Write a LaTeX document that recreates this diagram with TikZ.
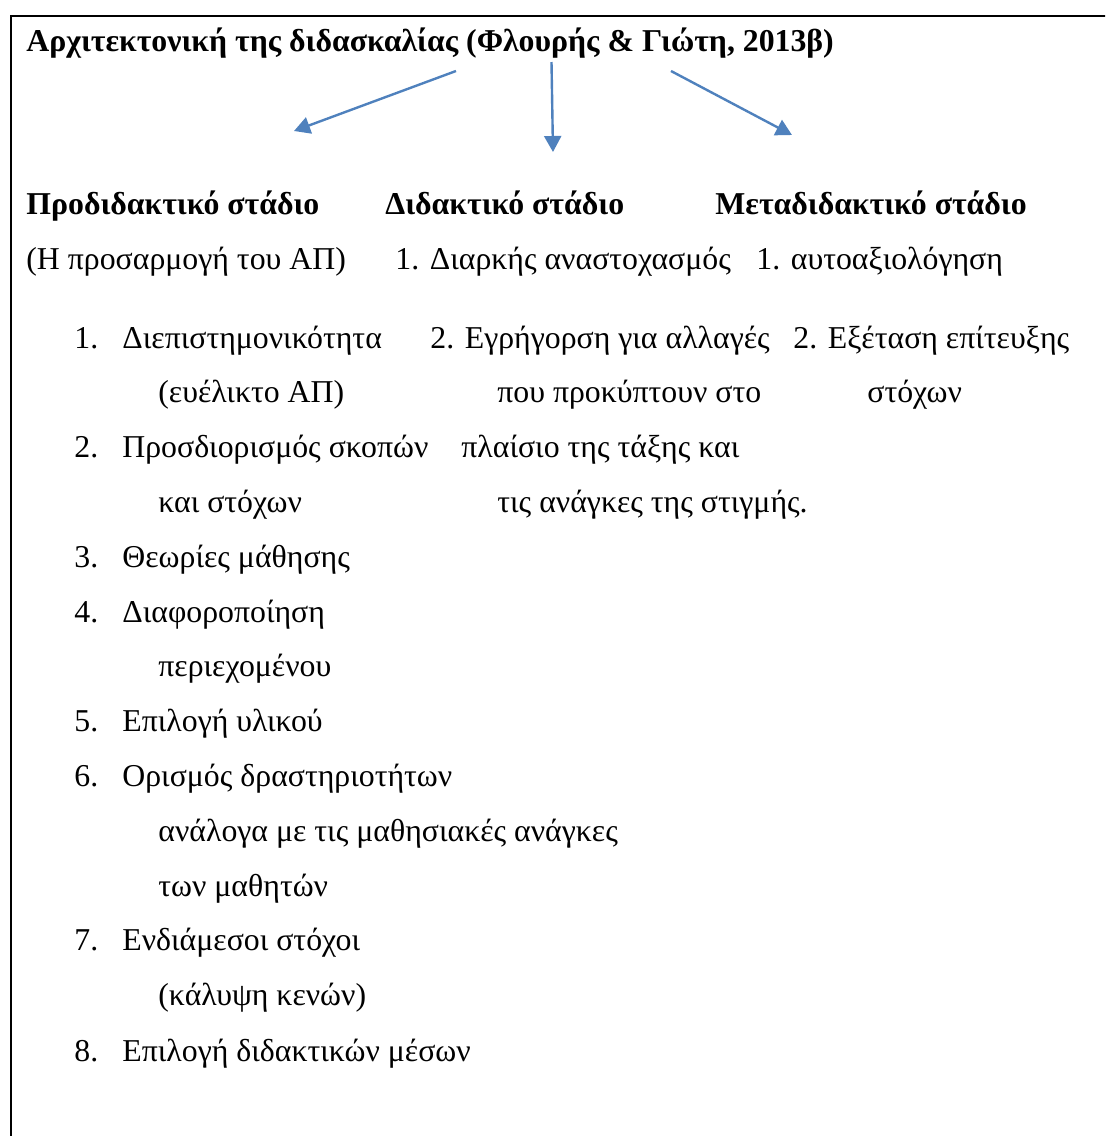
\documentclass[tikz,border=0pt]{standalone}
\usepackage{fontspec}
\setmainfont{Liberation Serif}
\usetikzlibrary{arrows.meta}
\definecolor{arrowblue}{RGB}{79,129,189}
\begin{document}
\begin{tikzpicture}[x=0.5pt,y=-0.5pt,
  txt/.style={anchor=base west, inner sep=0pt, font=\fontsize{15.9}{19}\selectfont},
  hdr/.style={txt, font=\fontsize{15.9}{19}\selectfont\bfseries},
  conn/.style={draw=arrowblue, line width=1.2pt, -{Triangle[length=8pt,width=8.5pt]}}]
\useasboundingbox (0,0) rectangle (1105,1136);
\begin{scope}
\clip (0,0) rectangle (1105,1136);
\draw[line width=1pt] (11,1150) -- (11,16) -- (1120,16);
\end{scope}
% title
\node[hdr] (title) at (26,51) {Αρχιτεκτονική της διδασκαλίας (Φλουρής \& Γιώτη, 2013β)};
% headers
\node[hdr] (pre) at (26,214) {Προδιδακτικό στάδιο};
\node[hdr] (did) at (385,214) {Διδακτικό στάδιο};
\node[hdr] (meta) at (715,214) {Μεταδιδακτικό στάδιο};
% arrows
\coordinate (s1) at (456,71);  \coordinate (e1) at (294,131);
\coordinate (s2) at (551.5,62); \coordinate (e2) at (553,152);
\coordinate (s3) at (671,71);  \coordinate (e3) at (792,135);
\draw[conn] (s1) -- (e1);
\draw[conn] (s2) -- (e2);
\draw[conn] (s3) -- (e3);
% row 2
\node[txt] (r2a) at (26,269) {(Η προσαρμογή του ΑΠ)};
\node[txt] (r2b) at (395,269) {1. Διαρκής αναστοχασμός};
\node[txt] (r2c) at (756,269) {1. αυτοαξιολόγηση};
% list column 1
\node[txt] (n1) at (74,348) {1.};
\node[txt] (t1) at (122,348) {Διεπιστημονικότητα};
\node[txt] (t1b) at (158,402.8) {(ευέλικτο ΑΠ)};
\node[txt] (n2) at (74,457.6) {2.};
\node[txt] (t2) at (122,457.6) {Προσδιορισμός σκοπών};
\node[txt] (t2b) at (158,512.4) {και στόχων};
\node[txt] (n3) at (74,567.2) {3.};
\node[txt] (t3) at (122,567.2) {Θεωρίες μάθησης};
\node[txt] (n4) at (74,622) {4.};
\node[txt] (t4) at (122,622) {Διαφοροποίηση};
\node[txt] (t4b) at (158,676.8) {περιεχομένου};
\node[txt] (n5) at (74,731.6) {5.};
\node[txt] (t5) at (122,731.6) {Επιλογή υλικού};
\node[txt] (n6) at (74,786.4) {6.};
\node[txt] (t6) at (122,786.4) {Ορισμός δραστηριοτήτων};
\node[txt] (t6b) at (158,841.2) {ανάλογα με τις μαθησιακές ανάγκες};
\node[txt] (t6c) at (158,896) {των μαθητών};
\node[txt] (n7) at (74,950.8) {7.};
\node[txt] (t7) at (122,950.8) {Ενδιάμεσοι στόχοι};
\node[txt] (t7b) at (158,1005.6) {(κάλυψη κενών)};
\node[txt] (n8) at (74,1061) {8.};
\node[txt] (t8) at (122,1061) {Επιλογή διδακτικών μέσων};
% column 2
\node[txt] (d2) at (430,348) {2. Εγρήγορση για αλλαγές};
\node[txt] (d2b) at (497,402.8) {που προκύπτουν στο};
\node[txt] (d2c) at (461,457.6) {πλαίσιο της τάξης και};
\node[txt] (d2d) at (497,512.4) {τις ανάγκες της στιγμής.};
% column 3
\node[txt] (m2) at (793,348) {2. Εξέταση επίτευξης};
\node[txt] (m2b) at (867,402.8) {στόχων};
\end{tikzpicture}
\end{document}
